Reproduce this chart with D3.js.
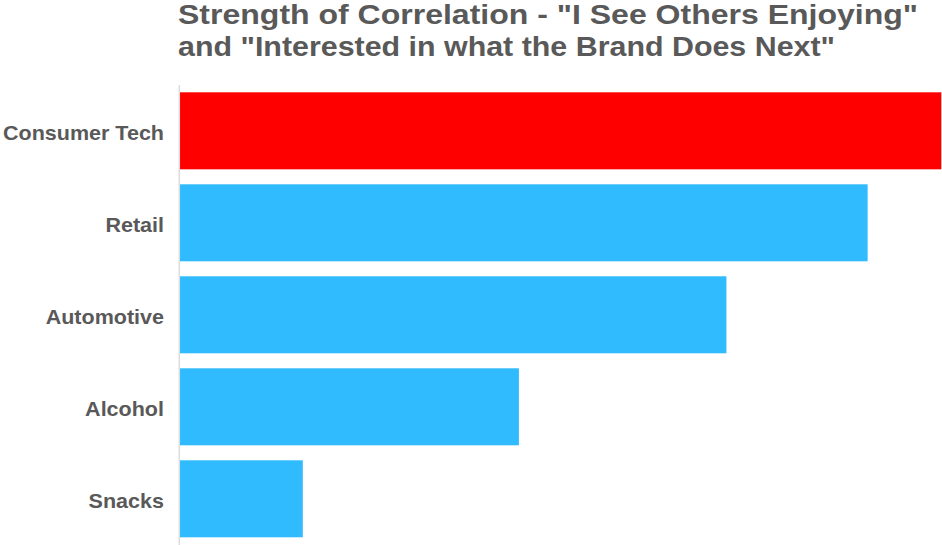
<!DOCTYPE html>
<html>
<head>
<meta charset="utf-8">
<script src="https://cdn.jsdelivr.net/npm/d3@7"></script>
<style>
  html, body { margin: 0; padding: 0; background: #fff; }
  svg { display: block; }
  text { font-family: "Liberation Sans", Arial, Helvetica, sans-serif; font-weight: bold; fill: #595959; }
</style>
</head>
<body>
<svg id="chart" width="942" height="545"></svg>
<script>
const titleLines = ['Strength of Correlation - "I See Others Enjoying"', 'and "Interested in what the Brand Does Next"'];
const categories = ["Consumer Tech", "Retail", "Automotive", "Alcohol", "Snacks"];
const values = [0.62, 0.56, 0.445, 0.276, 0.10];
const barColors = ["#ff0000", "#31bbff", "#31bbff", "#31bbff", "#31bbff"];

const svg = d3.select("#chart");
const x = d3.scaleLinear().domain([0, d3.max(values)]).range([180, 941.3]);
const y = d3.scaleBand().domain(categories).range([92.3, 537.3]).paddingInner(0.163).paddingOuter(0);

// stretch text horizontally to mimic the wider original typeface
function widen(sel, factor) {
  sel.each(function () {
    const len = this.getComputedTextLength();
    d3.select(this).attr("textLength", len * factor).attr("lengthAdjust", "spacingAndGlyphs");
  });
}

// title (line widths matched to original)
const titleWidths = [740, 657];
svg.selectAll("text.title").data(titleLines).join("text")
  .attr("class", "title")
  .attr("x", 178)
  .attr("y", (d, i) => 24 + i * 32)
  .style("font-size", "28px")
  .text(d => d)
  .attr("textLength", (d, i) => titleWidths[i])
  .attr("lengthAdjust", "spacingAndGlyphs");

// bars
svg.selectAll("rect.bar").data(categories).join("rect")
  .attr("class", "bar")
  .attr("x", x(0))
  .attr("y", d => y(d))
  .attr("width", (d, i) => x(values[i]) - x(0))
  .attr("height", y.bandwidth())
  .attr("fill", (d, i) => barColors[i]);

// axis line
svg.append("line")
  .attr("x1", 179.3).attr("x2", 179.3)
  .attr("y1", 85).attr("y2", 545)
  .attr("stroke", "#dcdcdc").attr("stroke-width", 1.5);

// category labels
const labels = svg.selectAll("text.cat").data(categories).join("text")
  .attr("class", "cat")
  .attr("x", 164)
  .attr("y", d => y(d) + y.bandwidth() / 2 + 1.5)
  .attr("dy", "0.35em")
  .attr("text-anchor", "end")
  .style("font-size", "21px")
  .text(d => d);
const l0 = labels.node().getComputedTextLength();
widen(labels, 161 / l0);
</script>
</body>
</html>
